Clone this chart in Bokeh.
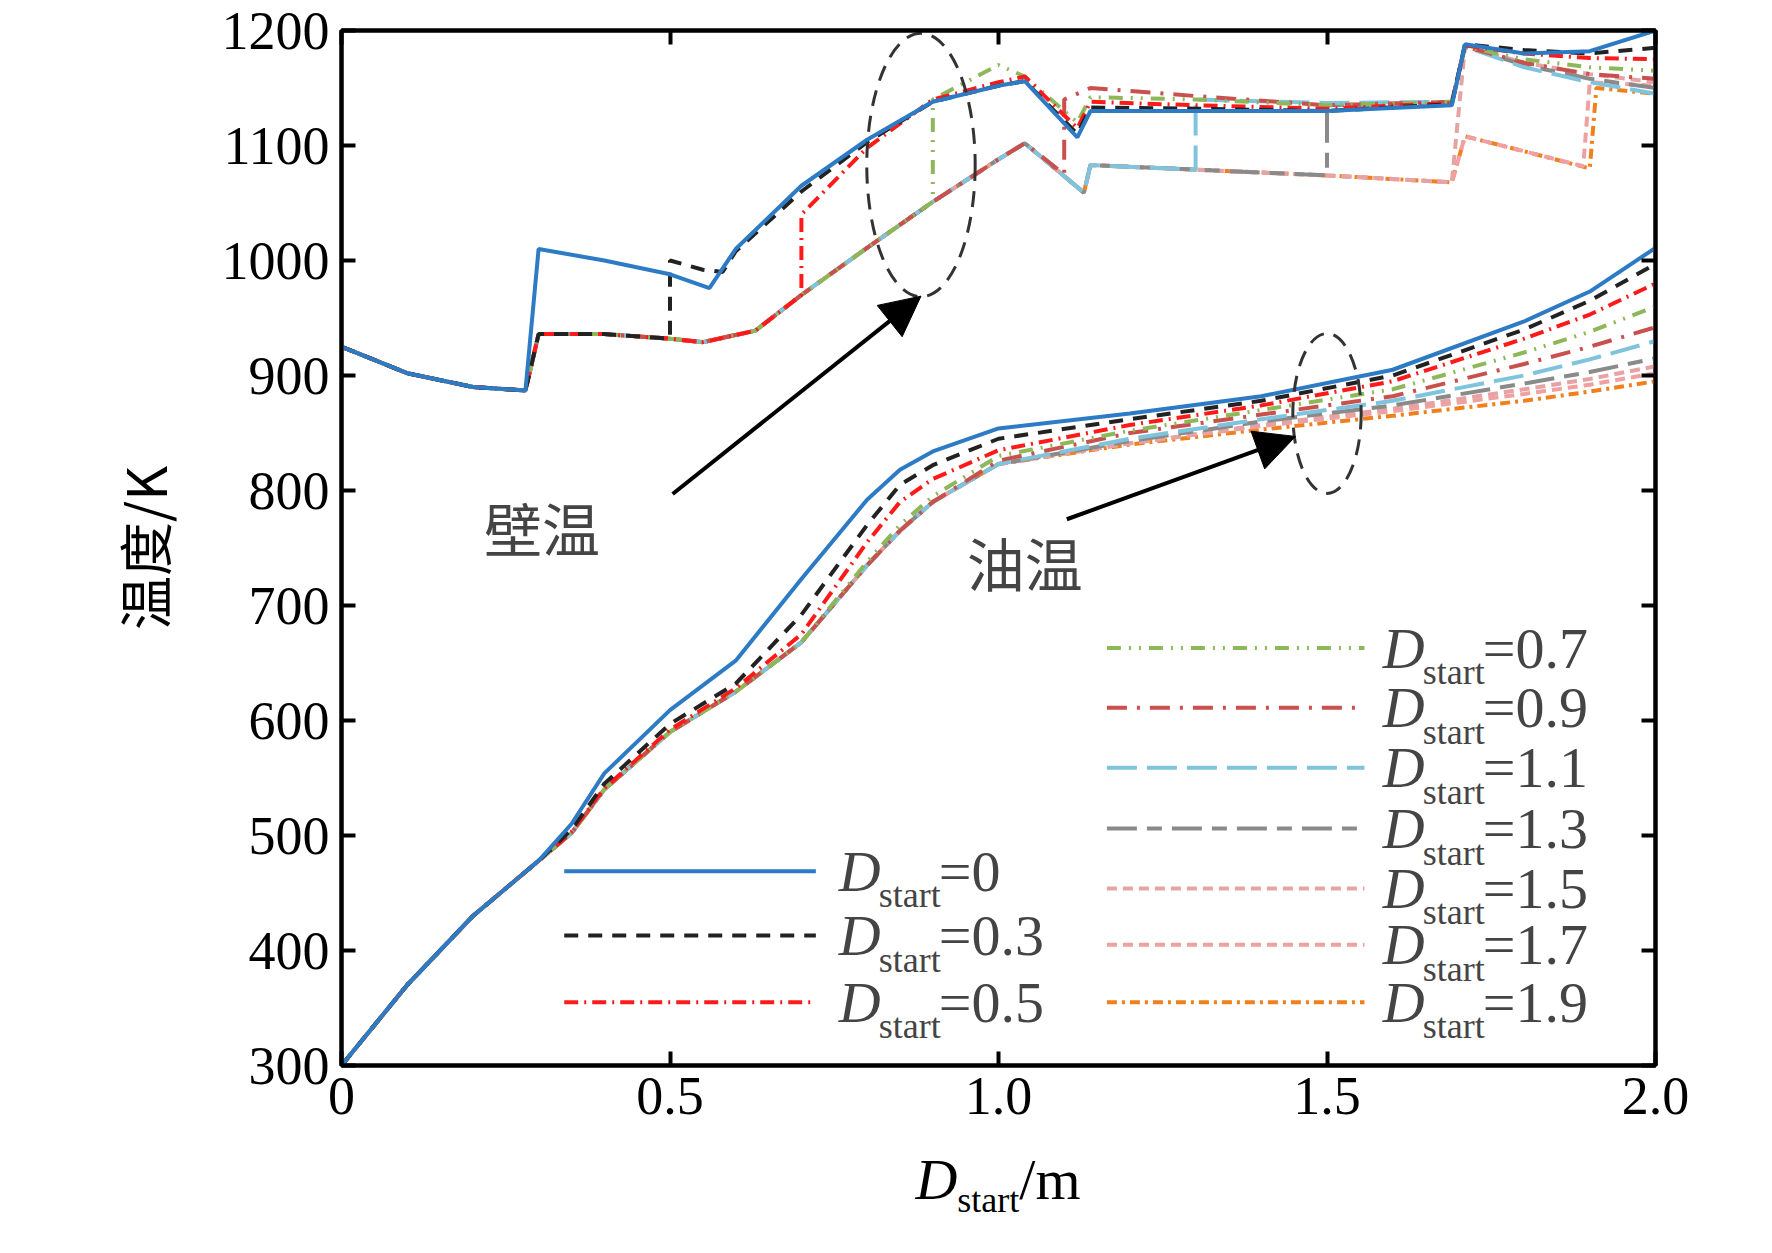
from bokeh.plotting import figure
from bokeh.models import Range1d, LinearAxis, FixedTicker, Label, Arrow, NormalHead, Div, CustomJSTickFormatter
from bokeh.layouts import column
from bokeh.embed import file_html
from bokeh.resources import INLINE

labels = ["0", "0.3", "0.5", "0.7", "0.9", "1.1", "1.3", "1.5", "1.7", "1.9"]
colors = ["#2c7bc4", "#222222", "#ff1a1a", "#8db85a", "#c9504c", "#7fc4dc", "#8a8a8a", "#e6a3a3", "#f0a0a0", "#f07f1e"]
dashes = ["solid", "14 10", "14 6 2 6", "14 8 2 8 2 8", "20 10 3 10", "30 10", "30 10 15 10", "10 6", "10 6", "10 5 3 5"]

# wall temperature: common low branch, then per-series tails
low_x = [0, 0.1, 0.2, 0.28, 0.3, 0.4, 0.5, 0.55, 0.63, 0.7, 0.8, 0.9, 1.0, 1.04, 1.13, 1.14, 1.3, 1.5, 1.69]
low_y = [925, 902, 890, 887, 936, 936, 932, 929, 939, 970, 1011, 1051, 1088, 1102, 1059, 1083, 1079, 1074, 1068]
prefix_n = [4, 7, 10, 12, 14, 17, 18, 19, 19, 19]
tail_x = [
    [0.3, 0.4, 0.5, 0.56, 0.6, 0.7, 0.8, 0.9, 1.0, 1.04, 1.12, 1.14, 1.3, 1.5, 1.69, 1.71, 1.8, 1.9, 2.0],
    [0.5, 0.55, 0.58, 0.6, 0.7, 0.8, 0.9, 1.0, 1.04, 1.12, 1.14, 1.3, 1.5, 1.69, 1.71, 1.8, 1.9, 2.0],
    [0.7, 0.8, 0.9, 1.0, 1.04, 1.12, 1.14, 1.3, 1.5, 1.69, 1.71, 1.8, 1.9, 2.0],
    [0.9, 1.0, 1.04, 1.12, 1.14, 1.3, 1.5, 1.69, 1.71, 1.8, 1.9, 2.0],
    [1.1, 1.1, 1.14, 1.3, 1.5, 1.69, 1.71, 1.8, 1.9, 2.0],
    [1.3, 1.5, 1.69, 1.71, 1.8, 1.9, 2.0],
    [1.5, 1.69, 1.71, 1.8, 1.9, 2.0],
    [1.71, 1.8, 1.9, 2.0],
    [1.71, 1.8, 1.89, 1.9, 2.0],
    [1.71, 1.8, 1.9, 1.91, 2.0],
]
tail_y = [
    [1010, 1000, 988, 976, 1010, 1065, 1105, 1138, 1152, 1156, 1107, 1130, 1130, 1130, 1135, 1188, 1180, 1182, 1200],
    [1000, 992, 990, 1008, 1060, 1103, 1138, 1152, 1156, 1110, 1133, 1132, 1130, 1136, 1188, 1183, 1180, 1185],
    [1040, 1098, 1140, 1155, 1160, 1115, 1138, 1135, 1132, 1137, 1187, 1180, 1176, 1175],
    [1140, 1170, 1160, 1120, 1142, 1140, 1135, 1138, 1186, 1175, 1168, 1165],
    [1075, 1140, 1150, 1143, 1135, 1138, 1186, 1172, 1162, 1158],
    [1140, 1137, 1138, 1186, 1168, 1155, 1145],
    [1135, 1136, 1186, 1170, 1158, 1150],
    [1186, 1172, 1162, 1155],
    [1108, 1095, 1082, 1155, 1152],
    [1108, 1095, 1080, 1150, 1145],
]

# oil temperature
oil_x = [0, 0.1, 0.2, 0.3, 0.35, 0.4, 0.5, 0.6, 0.7, 0.8, 0.85, 0.9, 1.0, 1.2, 1.4, 1.6, 1.8, 1.9, 2.0]
oil_y = [
    [300, 370, 430, 478, 510, 554, 609, 652, 723, 792, 818, 834, 854, 867, 882, 905, 947, 973, 1011],
    [300, 370, 430, 478, 505, 545, 597, 632, 692, 770, 805, 822, 845, 862, 878, 900, 940, 965, 997],
    [300, 370, 430, 478, 503, 541, 592, 628, 675, 755, 790, 810, 835, 857, 874, 895, 932, 953, 980],
    [300, 370, 430, 478, 502, 540, 590, 625, 668, 738, 770, 795, 830, 852, 870, 888, 920, 938, 960],
    [300, 370, 430, 478, 502, 540, 590, 625, 668, 735, 765, 790, 826, 850, 866, 882, 910, 925, 942],
    [300, 370, 430, 478, 502, 540, 590, 625, 668, 735, 765, 790, 823, 845, 862, 878, 900, 914, 930],
    [300, 370, 430, 478, 502, 540, 590, 625, 668, 735, 765, 790, 823, 843, 860, 874, 893, 903, 915],
    [300, 370, 430, 478, 502, 540, 590, 625, 668, 735, 765, 790, 823, 841, 857, 871, 888, 897, 908],
    [300, 370, 430, 478, 502, 540, 590, 625, 668, 735, 765, 790, 823, 841, 856, 869, 884, 892, 902],
    [300, 370, 430, 478, 502, 540, 590, 625, 668, 735, 765, 790, 823, 840, 853, 865, 878, 886, 895],
]

x_ticks = [0, 0.5, 1.0, 1.5, 2.0]
x_tick_labels = ["0", "0.5", "1.0", "1.5", "2.0"]
y_ticks = [300, 400, 500, 600, 700, 800, 900, 1000, 1100, 1200]

SERIF = "Liberation Serif"
CJK = "Noto Sans CJK SC"

p = figure(width=1756, height=1140, output_backend="svg", toolbar_location=None,
           x_range=Range1d(0, 2), y_range=Range1d(300, 1200),
           min_border_left=341, min_border_right=101, min_border_top=30, min_border_bottom=75)
p.grid.visible = False
p.outline_line_color = "black"
p.outline_line_width = 4

for ax in [p.xaxis[0], p.yaxis[0]]:
    ax.major_label_text_font = SERIF
    ax.major_label_text_font_size = "54px"
    ax.major_label_text_color = "black"
    ax.major_tick_in = 14
    ax.major_tick_out = 0
    ax.minor_tick_line_color = None
    ax.axis_line_width = 4
    ax.major_tick_line_width = 4
p.xaxis.ticker = FixedTicker(ticks=x_ticks)
p.xaxis.major_label_overrides = {t: l for t, l in zip(x_ticks, x_tick_labels)}
p.yaxis.ticker = FixedTicker(ticks=y_ticks)
p.xaxis.major_label_standoff = 12
p.yaxis.major_label_standoff = 12
p.yaxis.axis_label = "温度/K"
p.yaxis.axis_label_text_font = CJK
p.yaxis.axis_label_text_font_style = "normal"
p.yaxis.axis_label_text_color = "black"
p.yaxis.axis_label_text_font_size = "54px"
p.yaxis.axis_label_standoff = 36

blank = CustomJSTickFormatter(code="return '';")
ra = LinearAxis(ticker=FixedTicker(ticks=y_ticks), formatter=blank,
                major_tick_in=14, major_tick_out=0, minor_tick_line_color=None, axis_line_width=4, major_tick_line_width=4)
ta = LinearAxis(ticker=FixedTicker(ticks=x_ticks), formatter=blank,
                major_tick_in=14, major_tick_out=0, minor_tick_line_color=None, axis_line_width=4, major_tick_line_width=4)
p.add_layout(ra, "right")
p.add_layout(ta, "above")

for i in reversed(range(len(labels))):
    n = prefix_n[i]
    xs = low_x[:n] + tail_x[i]
    ys = low_y[:n] + tail_y[i]
    p.line(xs, ys, line_color=colors[i], line_dash=dashes[i], line_width=4)
    p.line(oil_x, oil_y[i], line_color=colors[i], line_dash=dashes[i], line_width=4)

# ellipses
p.ellipse(x=[0.882], y=[1083], width=0.165, height=229, fill_color=None,
          line_color="#333333", line_dash="16 10", line_width=3)
p.ellipse(x=[1.5], y=[867], width=0.104, height=139, fill_color=None,
          line_color="#333333", line_dash="16 10", line_width=3)

# arrows
for (x0, y0, x1, y1) in [(0.504, 797, 0.882, 969), (1.104, 775, 1.452, 847)]:
    p.add_layout(Arrow(end=NormalHead(size=40, fill_color="black", line_color="black"),
                       x_start=x0, y_start=y0, x_end=x1, y_end=y1, line_width=4))

p.add_layout(Label(x=0.305, y=768, text="壁温", text_font=CJK, text_font_size="58px",
                   text_align="center", text_baseline="middle"))
p.add_layout(Label(x=1.04, y=738, text="油温", text_font=CJK, text_font_size="58px",
                   text_align="center", text_baseline="middle"))

# legends
leg_rows_left = [469, 413, 355]
leg_rows_right = [663, 611, 559, 506, 454, 405, 355]

def legend_entry(i, x0, x1, tx, ty):
    p.line([x0, x1], [ty, ty], line_color=colors[i], line_dash=dashes[i], line_width=4)
    p.add_layout(Label(x=tx, y=ty, text="D", text_font=SERIF, text_font_style="italic",
                       text_font_size="58px", text_baseline="middle"))
    p.add_layout(Label(x=tx, y=ty, x_offset=40, y_offset=-24, text="start", text_font=SERIF,
                       text_font_size="36px", text_baseline="middle"))
    p.add_layout(Label(x=tx, y=ty, x_offset=100, text="=" + labels[i], text_font=SERIF,
                       text_font_size="58px", text_baseline="middle"))

for k, ty in enumerate(leg_rows_left):
    legend_entry(k, 0.339, 0.722, 0.757, ty)
for k, ty in enumerate(leg_rows_right):
    legend_entry(k + 3, 1.165, 1.557, 1.585, ty)

xlabel = Div(text='<i>D</i><sub style="font-size:36px">start</sub>/m', width=1314, height=97,
             styles={"font-family": SERIF, "font-size": "58px", "text-align": "center",
                     "margin-left": "341px", "color": "black", "line-height": "70px"})

open("out.html", "w").write(file_html(column(p, xlabel), INLINE))
